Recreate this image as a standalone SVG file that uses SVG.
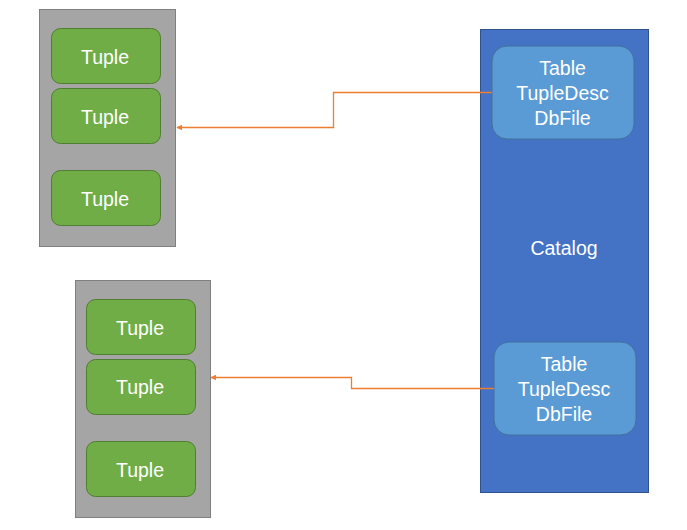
<svg xmlns="http://www.w3.org/2000/svg" width="687" height="530" viewBox="0 0 687 530">
<style>
.page{fill:#A5A5A5;stroke:#7F7F7F;stroke-width:1}
.tuple{fill:#70AD47;stroke:#507E32;stroke-width:1}
.cat{fill:#4472C4;stroke:#2F528F;stroke-width:1}
.tbl{fill:#5B9BD5;stroke:#41719C;stroke-width:1}
text{font-family:"Liberation Sans",Arial,sans-serif;font-size:19.5px;fill:#FFFFFF;text-anchor:middle}
.conn{fill:none;stroke:#ED7D31;stroke-width:1.3}
</style>
<defs>
<marker id="arr" viewBox="0 0 10 10" refX="9" refY="5" markerWidth="6" markerHeight="6" markerUnits="userSpaceOnUse" orient="auto">
<path d="M0,0 L10,5 L0,10 z" fill="#ED7D31"/>
</marker>
</defs>
<g id="page1">
<rect class="page" x="39.5" y="9.5" width="136" height="237"/>
</g>
<g id="tuple1a"><rect class="tuple" x="51.5" y="28.5" width="109" height="55" rx="9"/><text x="105" y="64">Tuple</text></g>
<g id="tuple1b"><rect class="tuple" x="51.5" y="88.5" width="109" height="55" rx="9"/><text x="105" y="124">Tuple</text></g>
<g id="tuple1c"><rect class="tuple" x="51.5" y="170.5" width="109" height="55" rx="9"/><text x="105" y="206">Tuple</text></g>
<g id="page2">
<rect class="page" x="75.5" y="280.5" width="135" height="237"/>
</g>
<g id="tuple2a"><rect class="tuple" x="86.5" y="299.5" width="109" height="55" rx="9"/><text x="140" y="335">Tuple</text></g>
<g id="tuple2b"><rect class="tuple" x="86.5" y="359.5" width="109" height="55" rx="9"/><text x="140" y="394">Tuple</text></g>
<g id="tuple2c"><rect class="tuple" x="86.5" y="441.5" width="109" height="55" rx="9"/><text x="140" y="477">Tuple</text></g>
<g id="catalog">
<rect class="cat" x="480.5" y="29.5" width="168" height="463"/>
<text x="564" y="255">Catalog</text>
</g>
<g id="table1">
<rect class="tbl" x="492" y="46" width="142" height="93" rx="15"/>
<text x="562.5" y="74.5">Table</text>
<text x="562.5" y="99.5">TupleDesc</text>
<text x="562.5" y="124.5">DbFile</text>
</g>
<g id="table2">
<rect class="tbl" x="494" y="342" width="142" height="93" rx="15"/>
<text x="564" y="370.5">Table</text>
<text x="564" y="395.5">TupleDesc</text>
<text x="564" y="420.5">DbFile</text>
</g>
<g id="connectors">
<path class="conn" d="M492,92.5 H333.5 V127.5 H177" marker-end="url(#arr)"/>
<path class="conn" d="M494,388.5 H351.5 V377.5 H211" marker-end="url(#arr)"/>
</g>
</svg>
